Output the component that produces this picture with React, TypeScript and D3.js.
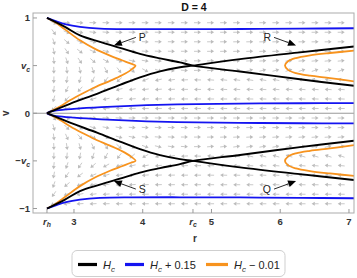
import React, { useEffect, useRef } from "react";
import * as d3 from "d3";

// key values
const R_H = 2.607;
const R_C = 4.731;
const V_C = 0.5;

const xTicks = [R_H, 3, 4, R_C, 5, 6, 7];
const xTickLabels = ["r|h", "3", "4", "r|c", "5", "6", "7"];
const yTicks = [1, V_C, 0, -V_C, -1];
const yTickLabels = ["1", "v|c", "0", "−v|c", "−1"];

// upper branches as [r, v]; the lower half of the plot is the mirror image
const hcFall = [
  [2.607, 1.0], [2.869, 0.906], [3.087, 0.817], [3.378, 0.749], [3.669, 0.686],
  [3.96, 0.623], [4.251, 0.576], [4.542, 0.534], [4.731, 0.5], [5.415, 0.438],
  [6.287, 0.356], [7.073, 0.288],
];
const hcRise = [
  [2.607, 0], [2.942, 0.099], [3.335, 0.204], [3.669, 0.298], [3.96, 0.377],
  [4.251, 0.44], [4.542, 0.482], [4.731, 0.5], [5.415, 0.568], [6.287, 0.639],
  [7.073, 0.7],
];
const hcPlusOuter = [
  [2.607, 1.0], [2.724, 0.969], [2.884, 0.932], [3.087, 0.906], [3.378, 0.888],
  [3.815, 0.882], [4.542, 0.882], [5.415, 0.884], [6.287, 0.888], [7.073, 0.892],
];
const hcPlusInner = [
  [2.607, 0], [2.65, 0.016], [2.75, 0.03], [3.0, 0.046], [3.4, 0.064],
  [3.9, 0.08], [4.5, 0.093], [5.4, 0.101], [6.3, 0.105], [7.073, 0.107],
];
const hcMinusLeft = [
  [2.607, 1.0], [2.724, 0.955], [2.869, 0.88], [3.087, 0.765], [3.305, 0.675],
  [3.524, 0.604], [3.698, 0.556], [3.829, 0.52], [3.895, 0.5], [3.829, 0.455],
  [3.698, 0.398], [3.524, 0.34], [3.305, 0.273], [3.131, 0.21], [2.942, 0.136],
  [2.796, 0.07], [2.607, 0],
];
const hcMinusRight = [
  [7.073, 0.657], [6.724, 0.632], [6.433, 0.607], [6.229, 0.579], [6.113, 0.545],
  [6.069, 0.5], [6.113, 0.455], [6.229, 0.421], [6.433, 0.394], [6.724, 0.369],
  [7.073, 0.335],
];

const seriesNames = ["H|c", "H|c| + 0.15", "H|c| − 0.01"];
const seriesColors = ["#000000", "#1414f0", "#f7931e"];

// marker arrows: label, tail [r, v], tip [r, v]
const markers: [string, number[], number[]][] = [
  ["P", [3.9, 0.796], [3.58, 0.712]],
  ["R", [5.91, 0.796], [6.23, 0.712]],
  ["S", [3.9, -0.796], [3.58, -0.712]],
  ["Q", [5.91, -0.796], [6.23, -0.712]],
];

const W = 357;
const H = 278;
const left = 33, right = 354, top = 13, bottom = 213;

// text like "v|c" -> italic v with subscript c; a third part is plain text after it
const richText = (sel: any, label: string, size: number) => {
  const parts = label.split("|");
  if (parts.length === 1) {
    sel.text(label);
    return;
  }
  let lead = parts[0];
  let prefix = "";
  if (lead.startsWith("−")) {
    prefix = "−";
    lead = lead.slice(1);
  }
  if (prefix) sel.append("tspan").text(prefix);
  sel.append("tspan").attr("font-style", "italic").text(lead);
  sel.append("tspan").attr("font-style", "italic").attr("font-size", size * 0.72)
    .attr("dy", size * 0.28).text(parts[1]);
  if (parts[2]) sel.append("tspan").attr("dy", -size * 0.28).text(parts[2]);
};

const App = () => {
  const ref = useRef<SVGSVGElement>(null);

  useEffect(() => {
    const svg = d3.select(ref.current);
    svg.selectAll("*").remove();

    const x = d3.scaleLinear().domain([2.404, 7.073]).range([left, right]);
    const y = d3.scaleLinear().domain([-1.047, 1.052]).range([bottom, top]);

    svg.append("defs").append("clipPath").attr("id", "plot-clip")
      .append("rect").attr("x", left).attr("y", top)
      .attr("width", right - left).attr("height", bottom - top);

    // stream field arrows
    const k = V_C * V_C;
    const A = (2 * k * (R_C - R_H)) / R_H;
    const fieldR = (r: number, v: number) => ((1 + k) * v) / (1 - v * v) - k / v;
    const fieldV = (r: number) => -((A * R_H) / (r * (r - R_H)) - (2 * k) / r);
    const cols = d3.range(R_H + 0.1, 7.05, 0.19);
    const rows = d3.range(-0.95, 0.96, 0.1);
    const field = svg.append("g").attr("clip-path", "url(#plot-clip)");
    const sx = x(1) - x(0);
    const sy = y(0) - y(1);
    rows.forEach((v) => {
      cols.forEach((r) => {
        let dx = fieldR(r, v) * sx;
        let dy = -fieldV(r) * sy;
        const m = Math.hypot(dx, dy);
        dx /= m;
        dy /= m;
        const cx = x(r), cy = y(v);
        const L = 7, hl = 3.2, hw = 2;
        const tx = cx - (dx * L) / 2, ty = cy - (dy * L) / 2;
        const px = cx + (dx * L) / 2, py = cy + (dy * L) / 2;
        const bx = px - dx * hl, by = py - dy * hl;
        field.append("line").attr("x1", tx).attr("y1", ty).attr("x2", bx).attr("y2", by)
          .attr("stroke", "#cacaca").attr("stroke-width", 1);
        field.append("path")
          .attr("d", `M${px},${py}L${bx - dy * hw},${by + dx * hw}L${bx + dy * hw},${by - dx * hw}Z`)
          .attr("fill", "#bcbcbc");
      });
    });

    // zero line
    svg.append("line").attr("x1", left).attr("x2", right).attr("y1", y(0)).attr("y2", y(0))
      .attr("stroke", "#8c8c8c").attr("stroke-width", 0.9);

    // curves
    const line = d3.line<number[]>()
      .x((d) => x(d[0]))
      .y((d) => y(d[1]))
      .curve(d3.curveCatmullRom.alpha(0.5));
    const mirror = (pts: number[][]) => pts.map((d) => [d[0], -d[1]]);
    const curves: [number[][], number, number][] = [
      [hcMinusLeft, 2, 1.8], [hcMinusRight, 2, 1.8],
      [hcPlusOuter, 1, 1.8], [hcPlusInner, 1, 1.8],
      [hcFall, 0, 1.9], [hcRise, 0, 1.9],
    ];
    const g = svg.append("g").attr("clip-path", "url(#plot-clip)");
    curves.forEach(([pts, ci, w]) => {
      [pts, mirror(pts)].forEach((p) => {
        g.append("path").attr("d", line(p)).attr("fill", "none")
          .attr("stroke", seriesColors[ci]).attr("stroke-width", w);
      });
    });

    // marker arrows
    markers.forEach(([lab, tail, tip]) => {
      const x1 = x(tail[0]), y1 = y(tail[1]);
      const x2 = x(tip[0]), y2 = y(tip[1]);
      const len = Math.hypot(x2 - x1, y2 - y1);
      const ux = (x2 - x1) / len, uy = (y2 - y1) / len;
      const hl = 8, hw = 3.4;
      const bx = x2 - ux * hl, by = y2 - uy * hl;
      svg.append("line").attr("x1", x1).attr("y1", y1).attr("x2", bx).attr("y2", by)
        .attr("stroke", "#111").attr("stroke-width", 0.9);
      svg.append("path")
        .attr("d", `M${x2},${y2}L${bx - uy * hw},${by + ux * hw}L${bx + uy * hw},${by - ux * hw}Z`)
        .attr("fill", "#000");
      const toRight = x2 < x1;
      svg.append("text")
        .attr("x", toRight ? x1 + 3 : x1 - 3)
        .attr("y", y1 + 4)
        .attr("text-anchor", toRight ? "start" : "end")
        .attr("font-size", 10.5).attr("fill", "#222")
        .text(lab);
    });

    // frame
    svg.append("rect").attr("x", left).attr("y", top)
      .attr("width", right - left).attr("height", bottom - top)
      .attr("fill", "none").attr("stroke", "#ababab").attr("stroke-width", 1);

    // ticks
    xTicks.forEach((t, i) => {
      svg.append("line").attr("x1", x(t)).attr("x2", x(t)).attr("y1", bottom).attr("y2", bottom - 4)
        .attr("stroke", "#9a9a9a");
      const tx = svg.append("text").attr("x", x(t)).attr("y", 224.5)
        .attr("text-anchor", "middle").attr("font-size", 9.5).attr("font-weight", "bold")
        .attr("fill", "#333");
      richText(tx, xTickLabels[i], 9.5);
    });
    yTicks.forEach((t, i) => {
      svg.append("line").attr("x1", left).attr("x2", left + 4).attr("y1", y(t)).attr("y2", y(t))
        .attr("stroke", "#9a9a9a");
      const ty = svg.append("text").attr("x", 30).attr("y", y(t) + 3.4)
        .attr("text-anchor", "end").attr("font-size", 9.5).attr("font-weight", "bold")
        .attr("fill", "#333");
      richText(ty, yTickLabels[i], 9.5);
    });

    // axis labels and title
    svg.append("text").attr("transform", `translate(8.5,${y(0)}) rotate(-90)`)
      .attr("text-anchor", "middle").attr("font-size", 10).attr("font-weight", "bold")
      .attr("fill", "#333").text("v");
    svg.append("text").attr("x", 195).attr("y", 241.5).attr("text-anchor", "middle")
      .attr("font-size", 10).attr("font-weight", "bold").attr("fill", "#333").text("r");
    svg.append("text").attr("x", 194).attr("y", 10.5).attr("text-anchor", "middle")
      .attr("font-size", 10.5).attr("font-weight", "bold").attr("fill", "#111").text("D = 4");

    // legend
    svg.append("rect").attr("x", 72).attr("y", 250.5).attr("width", 213).attr("height", 26)
      .attr("rx", 5).attr("fill", "#fff").attr("stroke", "#cfcfcf");
    const legendX = [78, 125, 206];
    const legendLen = [19, 19, 22];
    seriesNames.forEach((name, i) => {
      svg.append("line").attr("x1", legendX[i]).attr("x2", legendX[i] + legendLen[i])
        .attr("y1", 264.5).attr("y2", 264.5)
        .attr("stroke", seriesColors[i]).attr("stroke-width", 3.2);
      const lt = svg.append("text").attr("x", legendX[i] + legendLen[i] + 6).attr("y", 268.5)
        .attr("font-size", 11).attr("fill", "#222");
      richText(lt, name, 11);
    });
  }, []);

  return (
    <svg
      ref={ref}
      width={W}
      height={H}
      style={{
        position: "absolute",
        left: 0,
        top: 0,
        background: "#fff",
        fontFamily: "'Liberation Sans', Arial, sans-serif",
      }}
    />
  );
};

export default App;
